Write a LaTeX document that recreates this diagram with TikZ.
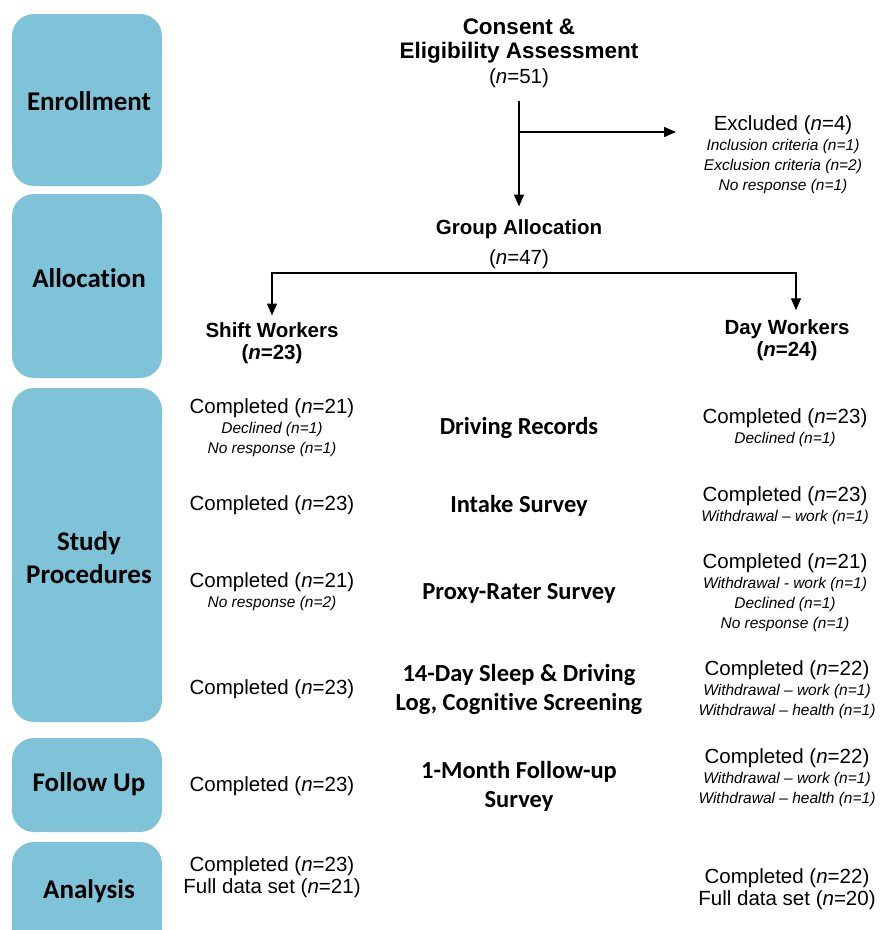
\documentclass[tikz,border=0pt]{standalone}
\usepackage{fontspec}
\setmainfont{Liberation Sans}
\newfontfamily\calibfont[Ligatures=NoCommon]{Carlito}
\usetikzlibrary{positioning, calc, arrows.meta}
\definecolor{phase blue}{RGB}{127,195,216}
\tikzset{phase/.style={fill=phase blue, rounded corners=22pt}}
\tikzset{phase label/.style={font=\calibfont\bfseries\fontsize{27}{33}\selectfont, align=center}}
\tikzset{stage/.style={font=\calibfont\bfseries\fontsize{24.5}{29}\selectfont, align=center}}
\tikzset{count/.style={font=\fontsize{20.5}{20}\selectfont, align=center, inner sep=1pt}}
\tikzset{flow/.style={line width=1.3pt, -{Triangle[length=12pt,width=10pt]}}}
\newcommand{\nis}[1]{(\textit{n}=#1)}
\newcommand{\why}[1]{{\fontsize{15.5}{20}\selectfont\itshape #1}}

\begin{document}
\begin{tikzpicture}[x=1pt, y=-1pt]
    \useasboundingbox (0,0) rectangle (883,930);
    \clip (0,0) rectangle (883,930);
    % phases down the left side
    \fill[phase] (12,14) rectangle (162,186);
    \fill[phase] (12,194) rectangle (162,378);
    \fill[phase] (12,388) rectangle (162,722);
    \fill[phase] (12,738) rectangle (162,832);
    \fill[phase] (12,842) rectangle (162,960);
    \node[phase label] (enrol) at (89,101) {Enrollment};
    \node[phase label] (allocp) at (89,278) {Allocation};
    \node[phase label] (studyp) at (89,558) {Study\\Procedures};
    \node[phase label] (followp) at (89,784) {Follow Up};
    \node[phase label] (analysisp) at (89,891) {Analysis};

    % enrollment and allocation
    \node[count] (consent) at (519,53) {{\bfseries\fontsize{22.5}{20}\selectfont Consent \&}\\[4.5pt]{\bfseries\fontsize{22.5}{20}\selectfont Eligibility Assessment}\\[4.5pt]\nis{51}};
    \node[count, anchor=north] (excl) at (783,114) {Excluded \nis{4}\\\why{Inclusion criteria (n=1)}\\\why{Exclusion criteria (n=2)}\\\why{No response (n=1)}};
    \node[count, anchor=south] (alloc) at (519,270) {\textbf{Group Allocation}\\[10pt]\nis{47}};
    \node[count, font=\bfseries\fontsize{20.5}{20}\selectfont] (shift) at (272,343) {Shift Workers\\[1.5pt](\textit{n}=23)};
    \node[count, font=\bfseries\fontsize{20.5}{20}\selectfont] (day) at (787,340) {Day Workers\\[2pt](\textit{n}=24)};
    \coordinate (split) at (519,132);
    \coordinate (exclin) at (676,132);
    \draw[flow] ([yshift=-12pt]consent.south) -- ([yshift=12pt]alloc.north);
    \draw[flow] (split) -- (exclin);
    \draw[flow] ([yshift=-3pt]alloc.south) -| ([yshift=6pt]shift.north);
    \draw[flow] ([yshift=-3pt]alloc.south) -| ([xshift=9pt, yshift=8pt]day.north);

    % study procedures
    \node[count] (rec l) at (272,428) {Completed \nis{21}\\\why{Declined (n=1)}\\\why{No response (n=1)}};
    \node[stage] (rec) at (519,428) {Driving Records};
    \node[count] (rec r) at (785,428) {Completed \nis{23}\\\why{Declined (n=1)}};

    \node[count] (intake l) at (272,505) {Completed \nis{23}};
    \node[stage] (intake) at (519,506) {Intake Survey};
    \node[count] (intake r) at (785,506) {Completed \nis{23}\\\why{Withdrawal -- work (n=1)}};

    \node[count] (proxy l) at (272,592) {Completed \nis{21}\\\why{No response (n=2)}};
    \node[stage] (proxy) at (519,593) {Proxy-Rater Survey};
    \node[count] (proxy r) at (785,593) {Completed \nis{21}\\\why{Withdrawal - work (n=1)}\\\why{Declined (n=1)}\\\why{No response (n=1)}};

    \node[count] (log l) at (272,689) {Completed \nis{23}};
    \node[stage] (log) at (519,689) {14-Day Sleep \& Driving\\Log, Cognitive Screening};
    \node[count] (log r) at (787,690) {Completed \nis{22}\\\why{Withdrawal -- work (n=1)}\\\why{Withdrawal -- health (n=1)}};

    % follow up and analysis
    \node[count] (follow l) at (272,786) {Completed \nis{23}};
    \node[stage] (follow) at (519,786) {1-Month Follow-up\\Survey};
    \node[count] (follow r) at (787,778) {Completed \nis{22}\\\why{Withdrawal -- work (n=1)}\\\why{Withdrawal -- health (n=1)}};

    \node[count] (data l) at (272,877) {Completed \nis{23}\\[2.5pt]Full data set \nis{21}};
    \node[count] (data r) at (787,889) {Completed \nis{22}\\[2.5pt]Full data set \nis{20}};
\end{tikzpicture}
\end{document}
